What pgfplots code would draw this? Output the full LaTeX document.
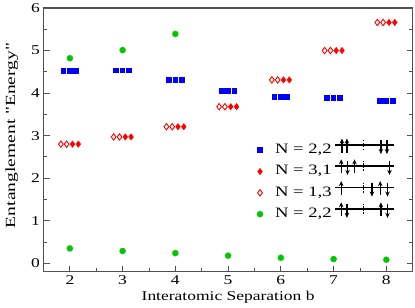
\documentclass[border=0pt]{standalone}
\usepackage{fontspec}
\setmainfont[FakeStretch=1.3]{Liberation Serif}
\newfontfamily\ylfont[FakeStretch=1.4]{Liberation Serif}
\usepackage{pgfplots}
\pgfplotsset{compat=1.18}
\usetikzlibrary{arrows.meta}
\definecolor{mblue}{RGB}{0,0,255}
\definecolor{mred}{RGB}{255,0,0}
\definecolor{mgreen}{RGB}{0,200,0}
\definecolor{frame}{RGB}{80,80,80}
\newcommand\spup[1]{\draw[line width=1.2bp,-{Stealth[length=5bp,width=4.5bp]}] (#1,-7.5) -- (#1,6.5);}
\newcommand\spdn[1]{\draw[line width=1.2bp,-{Stealth[length=5bp,width=4.5bp]}] (#1,5) -- (#1,-9);}
\newcommand\spdsh{\draw[line width=0.8bp,dash pattern=on 1.5bp off 1.5bp] (28.3,-5) -- (28.3,5);}
\newcommand\spbar{\draw[line width=1.4bp] (0,0) -- (59,0);}
\begin{document}
\begin{tikzpicture}
\begin{axis}[
  scale only axis, width=369.2bp, height=263.7bp,
  xmin=1.5, xmax=8.5, ymin=-0.197, ymax=6,
  xtick={2,3,4,5,6,7,8}, ytick={0,1,2,3,4,5,6},
  minor x tick num=1, minor y tick num=1,
  xtick pos=left, ytick pos=both,
  tick align=inside,
  major tick length=6bp, minor tick length=3.5bp,
  axis line style={line width=1.2bp, color=frame},
  every tick/.style={frame, line width=0.9bp},
  tick label style={font=\fontsize{13.5}{15}\selectfont},
  /pgf/number format/assume math mode=true,
  xlabel={Interatomic Separation b},
  ylabel={Entanglement "Energy"},
  xlabel style={font=\fontsize{13.5}{15}\selectfont, at={(axis description cs:0.5,-0.11)}, anchor=base, inner sep=0pt},
  ylabel style={font=\ylfont\fontsize{14}{16}\selectfont, at={(axis description cs:-0.068,0.517)}, anchor=south, inner sep=0pt},
  legend image code/.code={\path[draw=none,fill=none] (-4bp,-5.3bp) rectangle (4bp,5.3bp); \draw[#1, only marks] plot coordinates {(0bp,0bp)};},
  legend style={draw=none, fill=none, at={(axis cs:5.469,2.855)}, anchor=north west,
    font=\fontsize{14.4}{16}\selectfont, row sep=8.8bp, column sep=11bp,
    nodes={inner sep=0pt, text height=9.5bp, text depth=3bp}},
  legend cell align=left,
]
\addplot[only marks, mark=square*, mark size=2.35bp, color=mblue, mark options={line width=0pt}] coordinates {
 (1.88,4.52)(2,4.52)(2.12,4.52)
 (2.88,4.53)(3,4.53)(3.12,4.53)
 (3.88,4.31)(4,4.31)(4.12,4.31)
 (4.88,4.05)(5,4.05)(5.12,4.05)
 (5.88,3.91)(6,3.91)(6.12,3.91)
 (6.88,3.88)(7,3.88)(7.12,3.88)
 (7.88,3.82)(8,3.82)(8.12,3.82)};
\addlegendentry{N = 2,2}
\addplot[only marks, mark=diamond*, mark size=3.2bp, color=mred] coordinates {
 (2.05,2.80)(2.16,2.80)
 (3.05,2.97)(3.16,2.97)
 (4.05,3.21)(4.16,3.21)
 (5.05,3.68)(5.16,3.68)
 (6.05,4.31)(6.16,4.31)
 (7.05,5.00)(7.16,5.00)
 (8.05,5.66)(8.16,5.66)};
\addlegendentry{N = 3,1}
\addplot[only marks, mark=diamond, mark size=3.2bp, color=mred, mark options={line width=0.9bp}] coordinates {
 (1.83,2.80)(1.94,2.80)
 (2.83,2.97)(2.94,2.97)
 (3.83,3.21)(3.94,3.21)
 (4.83,3.68)(4.94,3.68)
 (5.83,4.31)(5.94,4.31)
 (6.83,5.00)(6.94,5.00)
 (7.83,5.66)(7.94,5.66)};
\addlegendentry{N = 1,3}
\addplot[only marks, mark=*, mark size=3bp, color=mgreen] coordinates {
 (2,4.82)(3,5.01)(4,5.39)
 (2,0.35)(3,0.29)(4,0.24)(5,0.18)(6,0.13)(7,0.10)(8,0.085)};
\addlegendentry{N = 2,2}
\coordinate (d1) at (axis cs:7.031,2.78);
\coordinate (d2) at (axis cs:7.031,2.29);
\coordinate (d3) at (axis cs:7.031,1.78);
\coordinate (d4) at (axis cs:7.031,1.28);
\end{axis}
\begin{scope}[shift={(d1)}, x=1bp, y=1bp]
 \spbar \spup{6.7} \spup{11.7} \spdsh \spdn{45.7} \spdn{51.7}
\end{scope}
\begin{scope}[shift={(d2)}, x=1bp, y=1bp]
 \spbar \spup{6} \spdn{12.3} \spup{19.3} \spdsh \spdn{54.3}
\end{scope}
\begin{scope}[shift={(d3)}, x=1bp, y=1bp]
 \spbar \spup{6} \spdsh \spdn{36.7} \spup{45} \spdn{52.3}
\end{scope}
\begin{scope}[shift={(d4)}, x=1bp, y=1bp]
 \spbar \spup{6} \spdn{11.7} \spdsh \spup{45.7} \spdn{52.3}
\end{scope}
\path (-43.5bp,-36.3bp) rectangle (371.5bp,271.7bp);
\end{tikzpicture}
\end{document}
